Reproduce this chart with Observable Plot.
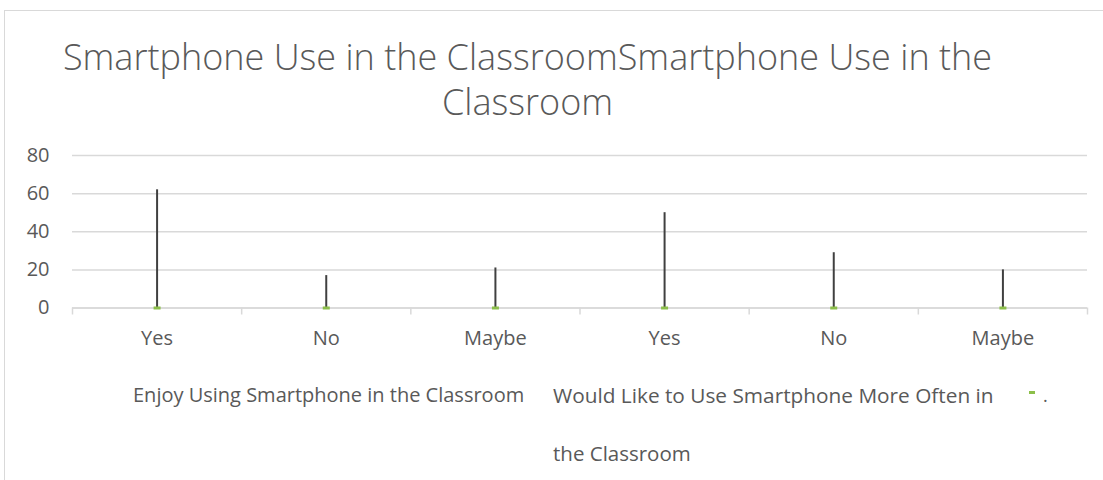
<!DOCTYPE html>
<html>
<head>
<meta charset="utf-8">
<script src="https://cdn.jsdelivr.net/npm/d3@7"></script>
<script src="https://cdn.jsdelivr.net/npm/@observablehq/plot@0.6"></script>
<style>
  html, body { margin: 0; padding: 0; background: #fff; overflow: hidden; }
  #wrap { position: relative; width: 1103px; height: 480px; overflow: hidden; font-family: "Open Sans", sans-serif; color: #595959; }
  #frame { position: absolute; left: 4px; top: 10px; width: 1110px; height: 500px; border: 1.5px solid #d9d9d9; box-sizing: border-box; }
  #title { position: absolute; left: 0; width: 1055px; top: 34px; text-align: center; font-size: 36px; font-weight: 300; line-height: 45px; white-space: nowrap; }
  #chart { position: absolute; left: 0; top: 0; }
  .leg { position: absolute; white-space: nowrap; line-height: 20px; }
  .sw { position: absolute; width: 6px; height: 3px; background: #8cbf4a; }
</style>
</head>
<body>
<div id="wrap">
  <div id="frame"></div>
  <div id="chart"></div>
  <div id="title">Smartphone Use in the ClassroomSmartphone Use in the<br>Classroom</div>
  <div id="legend"></div>
</div>
<script>
// ---- data ----
const labels = ["Yes", "No", "Maybe", "Yes", "No", "Maybe"];
const groups = ["Enjoy", "Enjoy", "Enjoy", "More", "More", "More"];
const values = [62, 17, 21, 50, 29, 20];
const yTicks = [0, 20, 40, 60, 80];
const legendNames = ["Enjoy Using Smartphone in the Classroom", "Would Like to Use Smartphone More Often in", "the Classroom"];

const data = labels.map((l, i) => ({ idx: i + 0.5, label: l, group: groups[i], value: values[i] }));
const edges = d3.range(labels.length + 1);

const dash = { draw(ctx) { ctx.rect(-3.5, -1.5, 7, 3); } };

const chart = Plot.plot({
  width: 1103,
  height: 480,
  marginLeft: 72,
  marginRight: 16,
  marginTop: 155,
  marginBottom: 172.5,
  style: { fontFamily: "Open Sans, sans-serif", fontSize: "20px", color: "#595959", background: "transparent" },
  x: { type: "linear", domain: [0, labels.length] },
  y: { domain: [0, 80] },
  marks: [
    Plot.gridY(yTicks, { stroke: "#d9d9d9", strokeOpacity: 1, strokeWidth: 1.5 }),
    Plot.axisY(yTicks, { tickSize: 0, tickPadding: 23, label: null, fill: "#595959", fontSize: 20 }),
    Plot.axisX(edges, { tickSize: 7, tickFormat: () => "", stroke: "#d9d9d9", strokeWidth: 1.5, label: null }),
    Plot.axisX(data.map(d => d.idx), { tickSize: 0, tickPadding: 23, tickFormat: (v) => labels[Math.floor(v)], label: null, fill: "#595959", fontSize: 20 }),
    Plot.ruleY([0], { stroke: "#d9d9d9", strokeWidth: 1.5 }),
    Plot.ruleX(data, { x: "idx", y1: 0, y2: "value", stroke: "#404040", strokeWidth: 2 }),
    Plot.dot(data, { x: "idx", y: 0, symbol: dash, r: 3, fill: "#8cbf4a", stroke: null })
  ]
});
document.getElementById("chart").appendChild(chart);

const leg = document.getElementById("legend");
const items = [
  { text: legendNames[0], x: 133, y: 385, size: 20 },
  { text: legendNames[1], x: 553, y: 385, size: 20.8 },
  { text: legendNames[2], x: 553, y: 443, size: 20.5 }
];
items.forEach(it => {
  const d = document.createElement("div");
  d.className = "leg";
  d.style.left = it.x + "px";
  d.style.top = it.y + "px";
  d.style.fontSize = it.size + "px";
  d.textContent = it.text;
  leg.appendChild(d);
});
const sw = document.createElement("div");
sw.className = "sw";
sw.style.left = "1029px";
sw.style.top = "391px";
leg.appendChild(sw);
const dot = document.createElement("div");
dot.className = "leg";
dot.style.left = "1043px";
dot.style.top = "385px";
dot.style.fontSize = "18px";
dot.textContent = ".";
leg.appendChild(dot);
</script>
</body>
</html>
